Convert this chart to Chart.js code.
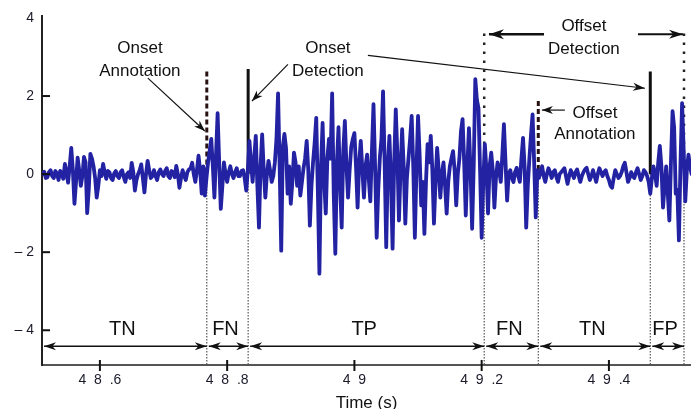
<!DOCTYPE html>
<html>
<head>
<meta charset="utf-8">
<script src="https://cdn.jsdelivr.net/npm/chart.js@4.4.1/dist/chart.umd.min.js"></script>
<style>
  html, body { margin: 0; padding: 0; background: #fff; overflow: hidden; }
  #wrap { width: 691px; height: 418px; position: relative; }
</style>
</head>
<body>
<div id="wrap"><canvas id="sig"></canvas></div>
<script>
const tStart = 48.51;
const tStep = 0.0025;
const signal = [
  0.0, 0.06, -0.1, -0.08, 0.05, 0.1, -0.05, -0.1, 0.08, 0.02, -0.15, 0.08, 0.0, -0.12, 0.26, 0.05, -0.22, 0.2, 0.67, 0.1,
  -0.76, -0.2, 0.42, 0.1, -0.3, -0.05, 0.44, 0.3, -1.0, -0.4, 0.52, 0.4, 0.2, -0.1, -0.6, -0.3, 0.1, -0.05, 0.26, 0.05,
  -0.12, 0.08, 0.05, -0.1, -0.15, 0.02, 0.08, -0.05, -0.1, 0.05, 0.1, -0.08, -0.2, 0.0, 0.05, -0.1, 0.29, 0.05, -0.42, -0.15,
  0.0, 0.1, 0.25, -0.1, -0.47, 0.0, 0.34, 0.1, -0.1, -0.05, 0.1, -0.05, -0.15, 0.05, 0.12, 0.0, -0.05, 0.08, 0.15, -0.05,
  -0.1, 0.08, 0.05, -0.08, 0.21, 0.0, -0.35, -0.1, 0.1, -0.05, -0.15, 0.05, 0.12, 0.15, 0.29, 0.0, -0.2, 0.1, 0.47, 0.1,
  -0.5, 0.2, -0.55, -0.1, 0.3, 0.6, 0.9, 0.2, -0.6, 0.5, 1.56, 0.3, -0.89, -0.3, 0.3, 0.0, -0.2, 0.05, 0.2, 0.0,
  -0.1, 0.05, 0.15, -0.05, -0.05, 0.08, 0.1, -0.1, -0.42, 0.1, 0.85, 0.3, -0.2, 0.4, 0.98, -0.3, -1.37, 0.2, 1.02, 0.1,
  -0.6, 0.0, 0.34, 0.1, -0.2, -0.05, 0.3, 0.9, 2.07, 0.2, -1.96, 0.7, 1.03, 0.67, -0.5, 0.2, -0.76, -0.2, 0.55, 0.3,
  -0.3, 0.2, -0.55, -0.2, 0.15, 0.4, 0.85, 0.1, -1.32, -0.3, 0.3, 0.8, 1.44, -0.4, -2.55, 0.2, 1.31, -0.2, -1.01, 0.4,
  0.9, 0.4, 2.07, -0.5, -2.04, 0.3, 1.2, -0.3, -1.37, 0.6, 1.36, 0.2, -0.6, 0.1, 0.7, 0.9, 1.05, 0.2, -0.86, 0.3,
  0.85, 0.1, -0.6, 0.2, 0.5, -0.1, -0.7, 0.6, 1.79, 0.2, -1.63, -0.4, 0.42, 0.9, 2.12, 0.3, -1.87, 0.2, 0.98, -0.2,
  -1.91, 0.3, 1.66, 0.5, -1.19, 0.1, 1.15, 0.2, -1.27, -0.1, 0.4, 0.9, 1.49, 0.2, -1.63, 0.1, 1.49, 0.5, -0.8, -0.2,
  -1.53, -0.2, 0.77, 0.3, 0.98, 0.1, -1.27, -0.2, 0.67, 0.1, -0.6, 0.0, 0.3, -0.3, -1.01, -0.2, 0.2, 0.4, 0.59, 0.1,
  -0.8, 0.0, 0.4, 1.1, 1.41, 0.3, -1.06, 0.2, 1.18, 0.1, -1.4, 0.2, 2.43, 1.9, 1.69, 0.1, -1.63, -0.2, 0.77, 0.1,
  -1.01, 0.2, 0.55, 0.1, -0.86, -0.1, 0.3, 0.1, -0.2, 0.5, 1.28, 0.3, -0.68, 0.0, 0.1, -0.1, -0.2, 0.05, 0.16, -0.05,
  -0.2, 0.4, 0.93, 0.2, -1.37, -0.3, 0.4, 1.0, 1.53, 0.3, -1.11, 0.1, -0.1, 0.05, 0.2, -0.05, -0.2, 0.0, 0.15, 0.05,
  -0.1, 0.05, 0.1, -0.08, -0.2, 0.0, 0.05, 0.1, 0.15, -0.05, -0.25, -0.05, 0.1, 0.0, -0.1, 0.05, 0.12, -0.05, -0.2, -0.05,
  0.05, 0.12, 0.16, 0.0, -0.15, -0.05, 0.1, -0.05, -0.2, 0.0, 0.15, 0.05, -0.05, 0.05, 0.1, -0.05, -0.15, -0.3, -0.35, -0.1,
  0.1, 0.0, -0.1, -0.05, 0.05, 0.2, 0.29, 0.05, -0.2, -0.1, 0.05, -0.05, -0.1, 0.05, 0.15, 0.0, -0.15, -0.05, 0.1, 0.05,
  -0.05, -0.2, -0.5, -0.1, 0.2, 0.0, -0.3, 0.3, 0.72, 0.2, -0.86, -0.3, 0.2, -0.5, -1.19, 0.3, 1.61, 1.2, -0.5, -0.4,
  -1.7, 0.3, 1.82, 0.6, -0.7, 0.1, 0.5, 0.2, 0.0
];

const xMin = 48.509;
const xMax = 49.529;
const yMin = -4.89;
const yMax = 4.04;
const xTicks = [48.6, 48.8, 49.0, 49.2, 49.4];
const xTickLabels = ['4  8  .6', '4  8  .8', '4  9', '4  9  .2', '4  9  .4'];
const yTicks = [-4, -2, 0, 2, 4];
const yTickLabels = ['\u2013 4', '\u2013 2', '0', '2', '4'];

// segment boundaries along the bottom and their labels
const boundaries = [48.509, 48.768, 48.833, 49.204, 49.289, 49.465, 49.518];
const segmentLabels = ['TN', 'FN', 'TP', 'FN', 'TN', 'FP'];

// onset/offset markers
const markerTimes = [48.768, 48.833, 49.289, 49.465];
const markerTops = [2.63, 2.69, 1.87, 2.63];
const markerDashed = [true, false, true, false];
const windowTimes = [49.204, 49.518];
const windowTop = 3.6;

const signalPoints = signal.map((v, i) => ({ x: tStart + i * tStep, y: v }));

const datasets = [];
datasets.push({
  data: signalPoints,
  borderColor: '#2222a2',
  borderWidth: 3.8,
  borderJoinStyle: 'round',
  borderCapStyle: 'round',
  pointRadius: 0,
  tension: 0,
  order: 1
});
markerTimes.forEach((t, i) => {
  datasets.push({
    data: [{ x: t, y: markerTops[i] }, { x: t, y: 0 }],
    borderColor: markerDashed[i] ? '#2a1212' : '#111',
    borderWidth: 3,
    borderDash: markerDashed[i] ? [5, 3] : [],
    pointRadius: 0,
    order: 2
  });
});
windowTimes.forEach(t => {
  datasets.push({
    data: [{ x: t, y: windowTop }, { x: t, y: 0.2 }],
    borderColor: '#222',
    borderWidth: 2.5,
    borderDash: [2.5, 6.5],
    pointRadius: 0,
    order: 2
  });
});
boundaries.slice(1).forEach(t => {
  datasets.push({
    data: [{ x: t, y: 0 }, { x: t, y: yMin }],
    borderColor: '#555',
    borderWidth: 1.2,
    borderDash: [1.5, 1.5],
    pointRadius: 0,
    order: 3
  });
});

function arrowHead(ctx, x1, y1, x2, y2, len, half) {
  const a = Math.atan2(y2 - y1, x2 - x1);
  ctx.beginPath();
  ctx.moveTo(x2, y2);
  ctx.lineTo(x2 - len * Math.cos(a) + half * Math.sin(a), y2 - len * Math.sin(a) - half * Math.cos(a));
  ctx.lineTo(x2 - len * 0.7 * Math.cos(a), y2 - len * 0.7 * Math.sin(a));
  ctx.lineTo(x2 - len * Math.cos(a) - half * Math.sin(a), y2 - len * Math.sin(a) + half * Math.cos(a));
  ctx.closePath();
  ctx.fill();
}

function arrow(ctx, x1, y1, x2, y2, width, len, half, both) {
  ctx.lineWidth = width;
  ctx.beginPath();
  ctx.moveTo(x1, y1);
  ctx.lineTo(x2, y2);
  ctx.stroke();
  arrowHead(ctx, x1, y1, x2, y2, len, half);
  if (both) arrowHead(ctx, x2, y2, x1, y1, len, half);
}

const annotationPlugin = {
  id: 'annotations',
  afterDatasetsDraw(chart) {
    const { ctx, scales: { x, y } } = chart;
    const px = v => x.getPixelForValue(v);
    const py = v => y.getPixelForValue(v);
    ctx.save();

    // inner tick marks
    ctx.strokeStyle = '#111';
    ctx.lineWidth = 2;
    xTicks.forEach(t => {
      ctx.beginPath();
      ctx.moveTo(px(t), y.bottom - 5);
      ctx.lineTo(px(t), y.bottom + 6);
      ctx.stroke();
    });
    yTicks.filter(v => v < 4).forEach(v => {
      ctx.beginPath();
      ctx.moveTo(x.left, py(v));
      ctx.lineTo(x.left + 8, py(v));
      ctx.stroke();
    });

    ctx.fillStyle = '#111';
    ctx.strokeStyle = '#111';

    // bottom double arrows + labels
    const arrowY = py(-4.41);
    ctx.font = '20px "Liberation Sans", Arial, sans-serif';
    ctx.textAlign = 'center';
    ctx.textBaseline = 'middle';
    for (let i = 0; i < segmentLabels.length; i++) {
      const a = px(boundaries[i]) + 2;
      const b = px(boundaries[i + 1]);
      arrow(ctx, a, arrowY, b, arrowY, 1.5, 12, 4, true);
      ctx.fillText(segmentLabels[i], (a + b) / 2 - 3, py(-3.97));
    }

    // offset detection window arrows
    const wy = py(3.58);
    arrow(ctx, px(49.298), wy, px(49.2115), wy, 2.5, 15, 5, false);
    arrow(ctx, px(49.4457), wy, px(49.5165), wy, 2, 14, 4.5, false);

    // callout arrows
    arrow(ctx, px(48.6754), py(2.46), px(48.765), py(1.105), 1.2, 11, 4, false);
    arrow(ctx, px(48.8955), py(2.81), px(48.8389), py(1.87), 1.2, 11, 4, false);
    arrow(ctx, px(49.0212), py(3.04), px(49.4566), py(2.2), 1.2, 12, 4, false);
    arrow(ctx, px(49.3308), py(1.64), px(49.2947), py(1.64), 1.2, 11, 4, false);

    // callout texts
    ctx.font = '17px "Liberation Sans", Arial, sans-serif';
    ctx.fillText('Onset', px(48.6629), py(3.22));
    ctx.fillText('Annotation', px(48.6629), py(2.64));
    ctx.fillText('Onset', px(48.9583), py(3.22));
    ctx.fillText('Detection', px(48.9583), py(2.64));
    ctx.fillText('Offset', px(49.3607), py(3.78));
    ctx.fillText('Detection', px(49.3607), py(3.2));
    ctx.fillText('Offset', px(49.378), py(1.56));
    ctx.fillText('Annotation', px(49.378), py(1.03));

    ctx.restore();
  }
};

new Chart(document.getElementById('sig'), {
  type: 'line',
  data: { datasets },
  plugins: [annotationPlugin],
  options: {
    responsive: true,
    maintainAspectRatio: false,
    animation: false,
    layout: { padding: { top: 15, right: 0, left: 0, bottom: 0 } },
    plugins: { legend: { display: false }, tooltip: { enabled: false } },
    scales: {
      x: {
        type: 'linear',
        min: xMin,
        max: xMax,
        afterBuildTicks: s => { s.ticks = xTicks.map(v => ({ value: v })); },
        afterFit: s => { s.height = 53; },
        grid: { display: false, drawTicks: false },
        border: { display: true, color: '#555', width: 2 },
        ticks: {
          padding: 7,
          color: '#1a1a2a',
          font: { family: '"Liberation Sans", Arial, sans-serif', size: 14 },
          maxRotation: 0,
          callback: (v, i) => xTickLabels[i]
        },
        title: {
          display: true,
          text: 'Time (s)',
          color: '#111',
          font: { family: '"Liberation Sans", Arial, sans-serif', size: 17 },
          padding: { top: 0, bottom: 4 }
        }
      },
      y: {
        min: yMin,
        max: yMax,
        afterBuildTicks: s => { s.ticks = yTicks.map(v => ({ value: v })); },
        afterFit: s => { s.width = 42; },
        grid: { display: false, drawTicks: false },
        border: { display: true, color: '#222', width: 2 },
        ticks: {
          padding: 8,
          color: '#1a1a2a',
          font: { family: '"Liberation Sans", Arial, sans-serif', size: 14 },
          callback: (v, i) => yTickLabels[i]
        }
      }
    }
  }
});
</script>
</body>
</html>
